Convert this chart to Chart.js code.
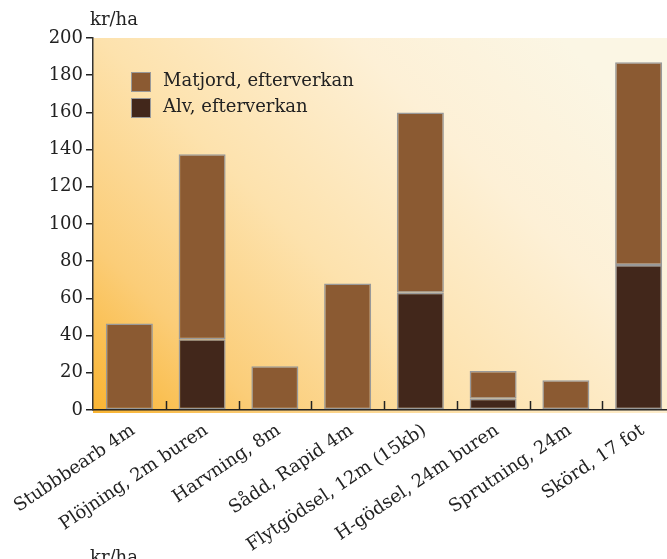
<!DOCTYPE html>
<html>
<head>
<meta charset="utf-8">
<script src="https://cdn.jsdelivr.net/npm/chart.js@4/dist/chart.umd.min.js"></script>
<style>
  html, body { margin: 0; padding: 0; background: #fff; overflow: hidden; }
  #wrap { position: relative; width: 667px; height: 559px; overflow: hidden; }
  #c { position: absolute; left: 0; top: 0; }
  .txt { position: absolute; font-family: "DejaVu Serif", serif; color: #222; white-space: nowrap; }
  #legend .item { position: absolute; left: 131px; font-family: "DejaVu Serif", serif; font-size: 18px; color: #222; }
  #legend .sw { position: absolute; left: 0; width: 18px; height: 18px; border: 1px solid #999; }
  #legend .lb { position: absolute; left: 32px; top: -3px; white-space: nowrap; }
</style>
</head>
<body>
<div id="wrap">
  <canvas id="c" width="675" height="559"></canvas>
  <div class="txt" style="left:90px; top:8px; font-size:18px;">kr/ha</div>
  <div id="legend"></div>
  <div class="txt" style="left:90px; top:546px; font-size:18px;">kr/ha</div>
</div>
<script>
// Kostnader per arbetsmoment, kr/ha
const categories = [
  'Stubbbearb 4m', 'Plöjning, 2m buren', 'Harvning, 8m', 'Sådd, Rapid 4m',
  'Flytgödsel, 12m (15kb)', 'H-gödsel, 24m buren', 'Sprutning, 24m', 'Skörd, 17 fot'
];
const alv     = [0, 38, 0, 0, 63, 6, 0, 78];
const matjord = [46.5, 99.5, 23.5, 68, 97, 15, 16, 109];
const yTicks  = [0, 20, 40, 60, 80, 100, 120, 140, 160, 180, 200];

const seriesNames  = ['Matjord, efterverkan', 'Alv, efterverkan'];
const seriesColors = ['#8b5a32', '#42271b'];

// legend
const legend = document.getElementById('legend');
seriesNames.forEach((name, i) => {
  const it = document.createElement('div');
  it.className = 'item';
  it.style.top = (72 + i * 26) + 'px';
  it.innerHTML = '<div class="sw" style="background:' + seriesColors[i] + '"></div><div class="lb">' + name + '</div>';
  legend.appendChild(it);
});

// plot background gradient and inward category ticks
const decor = {
  id: 'decor',
  beforeDraw(chart) {
    const { ctx, chartArea: a } = chart;
    const g = ctx.createLinearGradient(a.left, a.bottom, a.left + 420, a.bottom - 420);
    g.addColorStop(0, '#f9b432');
    g.addColorStop(0.2, '#fbcd78');
    g.addColorStop(0.45, '#fde2ad');
    g.addColorStop(0.75, '#fdf0d6');
    g.addColorStop(1, '#fbf6e4');
    ctx.save();
    ctx.fillStyle = g;
    ctx.fillRect(a.left, a.top, a.right - a.left, a.bottom - a.top + 3);
    ctx.restore();
  },
  afterDraw(chart) {
    const { ctx, chartArea: a } = chart;
    const xs = chart.scales.x;
    const n = categories.length;
    const step = (xs.getPixelForTick(n - 1) - xs.getPixelForTick(0)) / (n - 1);
    ctx.save();
    ctx.strokeStyle = '#222';
    ctx.lineWidth = 1.5;
    for (let i = 0; i < n; i++) {
      const x = Math.round(xs.getPixelForTick(i) + step / 2) + 0.5;
      ctx.beginPath();
      ctx.moveTo(x, a.bottom);
      ctx.lineTo(x, a.bottom - 9);
      ctx.stroke();
    }
    ctx.restore();
  }
};

new Chart(document.getElementById('c'), {
  type: 'bar',
  data: {
    labels: categories,
    datasets: [
      { label: seriesNames[1], data: alv, backgroundColor: seriesColors[1], borderColor: '#999', borderWidth: 1.5, borderSkipped: false },
      { label: seriesNames[0], data: matjord, backgroundColor: seriesColors[0], borderColor: '#999', borderWidth: 1.5, borderSkipped: false }
    ]
  },
  options: {
    responsive: false,
    animation: false,
    layout: { padding: { top: 38, right: 0, left: 0, bottom: 0 } },
    datasets: { bar: { barPercentage: 0.646, categoryPercentage: 1 } },
    plugins: { legend: { display: false }, tooltip: { enabled: false } },
    scales: {
      x: {
        stacked: true,
        grid: { display: false },
        border: { display: true, color: '#222', width: 1.5 },
        ticks: {
          minRotation: 34, maxRotation: 34, autoSkip: false,
          color: '#222', padding: 2, labelOffset: 4,
          font: { family: 'DejaVu Serif', size: 18 }
        },
        afterFit(s) { s.height = 149; }
      },
      y: {
        stacked: true,
        min: 0, max: 200,
        afterBuildTicks(s) { s.ticks = yTicks.map(v => ({ value: v })); },
        grid: { drawOnChartArea: false, drawTicks: true, tickLength: 7, color: '#222', lineWidth: 1.5 },
        border: { display: true, color: '#333', width: 1.5 },
        ticks: { color: '#222', padding: 3, font: { family: 'DejaVu Serif', size: 18 } },
        afterFit(s) { s.width = 93; }
      }
    }
  },
  plugins: [decor]
});
</script>
</body>
</html>
